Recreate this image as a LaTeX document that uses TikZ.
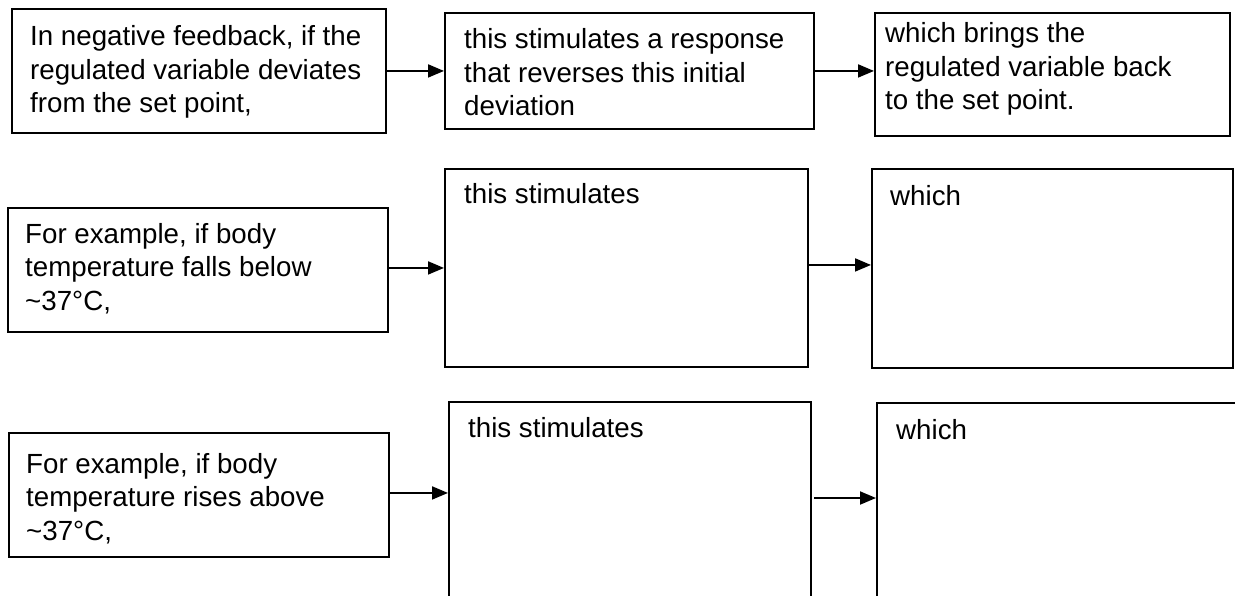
\documentclass[tikz,border=0pt]{standalone}
\usepackage{fontspec}
\setmainfont{Liberation Sans}
\usetikzlibrary{arrows.meta}
\newcommand{\fbfont}{\fontsize{27.7pt}{33.5pt}\selectfont}
\newcommand{\ptext}[1]{\parbox[t]{400pt}{\raggedright #1}}
\tikzset{
  box/.style={draw=black, line width=1.9pt, rectangle, anchor=north west, inner sep=0pt, fill=none},
  txt/.style={anchor=base west, inner sep=0pt, font=\fbfont, text=black},
  arr/.style={draw=black, line width=1.9pt, -{Triangle[length=16pt,width=13pt]}}
}
\begin{document}
\begin{tikzpicture}[x=1pt,y=-1pt]
\clip (0,0) rectangle (1235,595);
\fill[white] (0,0) rectangle (1235,595);
% row 1
\node[box, minimum width=374pt, minimum height=124pt] (A) at (11,8) {};
\node[box, minimum width=369pt, minimum height=116pt] (B) at (444,12) {};
\node[box, minimum width=355pt, minimum height=123pt] (C) at (874,12) {};
% row 2
\node[box, minimum width=380pt, minimum height=124pt] (D) at (7,207) {};
\node[box, minimum width=363pt, minimum height=198pt] (E) at (444,168) {};
\node[box, minimum width=361pt, minimum height=199pt] (F) at (871,168) {};
% row 3
\node[box, minimum width=380pt, minimum height=124pt] (G) at (8,432) {};
\node[box, minimum width=362pt, minimum height=259pt] (H) at (448,401) {};
\node[box, minimum width=394pt, minimum height=258pt] (I) at (876,402) {};
% texts
\node[txt] (tA) at (30,45.5) {\ptext{In negative feedback, if the\\regulated variable deviates\\from the set point,}};
\node[txt] (tB) at (464,48.5) {\ptext{this stimulates a response\\that reverses this initial\\deviation}};
\node[txt] (tC) at (885,42.5) {\ptext{which brings the\\regulated variable back\\to the set point.}};
\node[txt] (tD) at (25,243) {\ptext{For example, if body\\temperature falls below\\\textasciitilde37°C,}};
\node[txt] (tE) at (464,203) {this stimulates};
\node[txt] (tF) at (890,205) {which};
\node[txt] (tG) at (26,473) {\ptext{For example, if body\\temperature rises above\\\textasciitilde37°C,}};
\node[txt] (tH) at (468,437) {this stimulates};
\node[txt] (tI) at (896,439) {which};
% connectors
\draw[arr] (A.east) -- (A.east -| B.west);
\draw[arr] (B.east) -- (B.east -| C.west);
\draw[arr] (E.west -| D.east) -- (E.west);
\draw[arr] ([yshift=3pt]E.east) -- ([yshift=3pt]E.east -| F.west);
\draw[arr] ([yshift=2pt]G.east) -- ([yshift=2pt]G.east -| H.west);
\coordinate (hout) at (814,498);
\draw[arr] (hout) -- (hout -| I.west);
\end{tikzpicture}
\end{document}
